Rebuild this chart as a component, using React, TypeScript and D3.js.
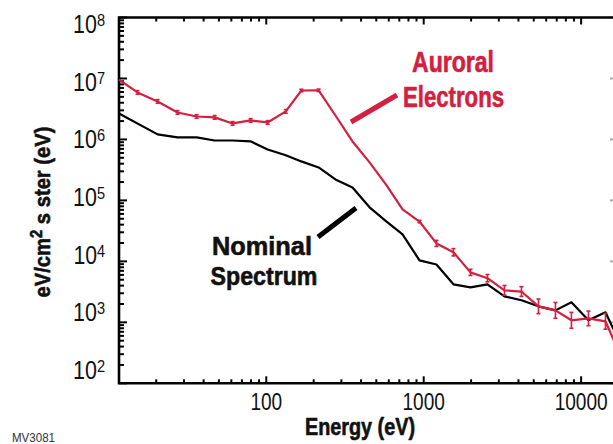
import React, { useLayoutEffect, useRef, useState } from 'react';
import * as d3 from 'd3';

// Energy bins (eV)
const energies = [11.6, 15.2, 20.4, 27.3, 36.1, 47.0, 61.1, 79.5, 102, 133, 167, 215, 275, 353, 453, 581, 734, 940, 1205, 1545, 1982, 2541, 3258, 4178, 5357, 6868, 8676, 11130, 14280, 18300];
// Auroral electrons (red)
const auroral = [9.6e6, 5.9e6, 4.2e6, 2.77e6, 2.38e6, 2.3e6, 1.83e6, 2.05e6, 1.9e6, 2.88e6, 6.35e6, 6.4e6, 2.47e6, 9.27e5, 4.2e5, 1.76e5, 7.1e4, 4.5e4, 1.97e4, 1.41e4, 6.6e3, 5.3e3, 3.35e3, 3.2e3, 1.83e3, 1.57e3, 1.08e3, 1.16e3, 1.04e3, 240];
// error bar half-width in decades
const auroralErrDex = [0, 0.03, 0.03, 0.03, 0.03, 0.03, 0.03, 0.03, 0.03, 0.03, 0.02, 0.02, 0, 0, 0, 0, 0, 0.02, 0.05, 0.06, 0.05, 0.06, 0.08, 0.08, 0.12, 0.13, 0.13, 0.12, 0.13, 0];
// Nominal spectrum (black)
const nominalEnergies = [11.6, 20.4, 27.3, 36.1, 47.0, 61.1, 79.5, 102, 133, 167, 215, 275, 353, 453, 581, 734, 940, 1205, 1545, 1982, 2541, 3258, 4178, 5357, 6868, 8676, 11130, 14280, 18300];
const nominal = [2.67e6, 1.21e6, 1.08e6, 1.08e6, 9.6e5, 9.6e5, 9.3e5, 6.85e5, 5.5e5, 4.36e5, 3.47e5, 2.21e5, 1.63e5, 7.7e4, 4.5e4, 2.77e4, 1.04e4, 8.9e3, 4.2e3, 3.75e3, 4.2e3, 2.67e3, 2.3e3, 1.83e3, 1.57e3, 2.13e3, 1.08e3, 1.46e3, 375];

const xTickValues = [100, 1000, 10000];
const xTickLabels = ['100', '1000', '10000'];
const yExponents = [2, 3, 4, 5, 6, 7, 8];

const RED = '#d3203e';
const FONT = '"Liberation Sans", Arial, sans-serif';

const W = 613, H = 444;
const L = 119, R = 617, T = 17.5, B = 383.3;

type FitProps = {
  x: number; y: number; width: number; rotate?: number;
  anchor?: 'start' | 'middle' | 'end';
  size: number; weight?: string; fill?: string; heavy?: boolean;
  children: React.ReactNode;
};

// Text squeezed horizontally to a target width (emulates a condensed face)
function FitText({ x, y, width, rotate = 0, anchor = 'start', size, weight = 'normal', fill = '#111', heavy = false, children }: FitProps) {
  const ref = useRef<SVGTextElement>(null);
  const [s, setS] = useState(0.8);
  useLayoutEffect(() => {
    if (ref.current) {
      const w = ref.current.getBBox().width;
      if (w > 0) setS(width / w);
    }
  }, [width]);
  return (
    <g transform={`translate(${x},${y}) rotate(${rotate}) scale(${s},1)`}>
      <text ref={ref} x={0} y={0} textAnchor={anchor} fontFamily={FONT} fontSize={size} fontWeight={weight} fill={fill}
        stroke={heavy ? fill : 'none'} strokeWidth={heavy ? 0.6 : 0} strokeLinejoin="round">
        {children}
      </text>
    </g>
  );
}

export default function App() {
  const x = d3.scaleLog().domain([11.6, 16900]).range([L, R]);
  const y = d3.scaleLog().domain([1e2, 1e8]).range([B, T]);
  // label baselines in the figure are spaced slightly tighter than the ticks
  const yLabel = d3.scaleLinear().domain([8, 2]).range([33, 379]);

  const line = d3.line<[number, number]>().x(d => x(d[0])).y(d => y(d[1]));
  const redPts = energies.map((e, i) => [e, auroral[i]] as [number, number]);
  const blackPts = nominalEnergies.map((e, i) => [e, nominal[i]] as [number, number]);

  const xTicks = x.ticks();
  const yTicks = y.ticks();
  const isMajor = (v: number) => Math.abs(Math.log10(v) - Math.round(Math.log10(v))) < 1e-6;

  return (
    <svg width={W} height={H} style={{ position: 'absolute', left: 0, top: 0, background: '#fff' }}>
      <rect x={0} y={0} width={W} height={H} fill="#fff" />
      {/* x ticks bottom & top */}
      {xTicks.map((t, i) => {
        const px = x(t);
        const maj = isMajor(t);
        return (
          <g key={'xt' + i} stroke="#000" strokeWidth={2}>
            <line x1={px} x2={px} y1={B} y2={B - (maj ? 7 : 4)} />
            <line x1={px} x2={px} y1={T} y2={T + (maj ? 7 : 4)} />
          </g>
        );
      })}
      {/* y ticks left & right */}
      {yTicks.map((t, i) => {
        const py = y(t);
        const maj = isMajor(t);
        return (
          <g key={'yt' + i} strokeWidth={2}>
            <line x1={L} x2={L + (maj ? 8 : 5)} y1={py} y2={py} stroke="#000" />
            <line x1={R} x2={R - (maj ? 7 : 3)} y1={py} y2={py} stroke="#aaa" />
          </g>
        );
      })}
      {/* frame */}
      <path d={`M${L},${B}H${R}V${T}H${L}Z`} fill="none" stroke="#000" strokeWidth={2.6} />

      {/* data lines */}
      <path d={line(blackPts) || ''} fill="none" stroke="#000" strokeWidth={2.2} strokeLinejoin="round" />
      <path d={line(redPts) || ''} fill="none" stroke={RED} strokeWidth={2.2} strokeLinejoin="round" />
      {redPts.map((p, i) => {
        const e = auroralErrDex[i];
        if (!e) return null;
        const px = x(p[0]);
        const y1 = y(p[1] * Math.pow(10, e));
        const y2 = y(p[1] / Math.pow(10, e));
        return (
          <g key={'eb' + i} stroke={RED} strokeWidth={1.6}>
            <line x1={px} x2={px} y1={y1} y2={y2} />
            <line x1={px - 2} x2={px + 2} y1={y1} y2={y1} />
            <line x1={px - 2} x2={px + 2} y1={y2} y2={y2} />
          </g>
        );
      })}

      {/* y tick labels */}
      {yExponents.map(k => (
        <FitText key={'yl' + k} x={105} y={yLabel(k)} width={32} anchor="end" size={25}>
          10<tspan dy={-7} fontSize={17}>{k}</tspan>
        </FitText>
      ))}
      {/* x tick labels */}
      {xTickValues.map((v, i) => (
        <FitText key={'xl' + i} x={x(v)} y={410} width={xTickLabels[i].length * 10.6} anchor="middle" size={24}>
          {xTickLabels[i]}
        </FitText>
      ))}

      {/* axis titles */}
      <FitText x={360} y={435} width={110} anchor="middle" size={23} weight="bold" heavy>Energy (eV)</FitText>
      <FitText x={50} y={212} rotate={-90} width={171} anchor="middle" size={22} weight="bold" heavy>
        eV/cm<tspan dy={-8} fontSize={16}>2</tspan><tspan dy={8}> s ster (eV)</tspan>
      </FitText>

      {/* annotations */}
      <FitText x={453} y={72} width={82} anchor="middle" size={29} weight="bold" fill={RED} heavy>Auroral</FitText>
      <FitText x={453.5} y={107} width={101} anchor="middle" size={29} weight="bold" fill={RED} heavy>Electrons</FitText>
      <line x1={351} y1={122} x2={397} y2={95} stroke={RED} strokeWidth={5} />

      <FitText x={262} y={255} width={100} anchor="middle" size={26} weight="bold" heavy>Nominal</FitText>
      <FitText x={264} y={285} width={107} anchor="middle" size={26} weight="bold" heavy>Spectrum</FitText>
      <line x1={318} y1={237} x2={356} y2={208} stroke="#000" strokeWidth={5} />

      <FitText x={12} y={442} width={43} size={12} fill="#333">MV3081</FitText>
    </svg>
  );
}
